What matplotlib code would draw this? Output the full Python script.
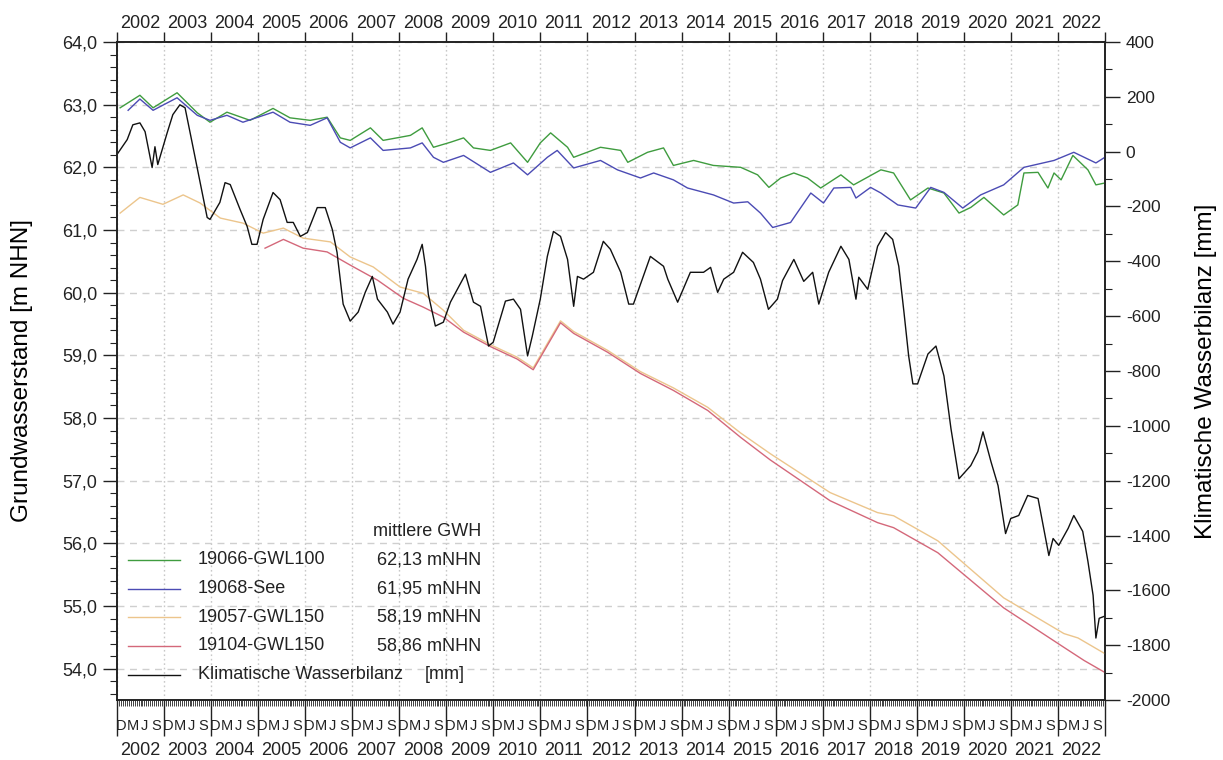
import matplotlib
matplotlib.use('Agg')
import matplotlib.pyplot as plt
from matplotlib.ticker import FixedLocator, MultipleLocator, FuncFormatter, NullFormatter

plt.rcParams['font.family'] = ['Liberation Sans', 'DejaVu Sans']
plt.rcParams['text.color'] = '#222222'
plt.rcParams['xtick.color'] = '#222222'
plt.rcParams['ytick.color'] = '#222222'
plt.rcParams['axes.unicode_minus'] = False

# ---------------- data ----------------
hydro_years = list(range(2002, 2023))
month_letters = ['D', 'M', 'J', 'S']
month_offsets = [1, 4, 7, 10]          # months after 1 Nov

gwl100_t = [2001.90, 2002.32, 2002.60, 2003.11, 2003.54, 2003.81, 2004.17, 2004.66, 2005.15, 2005.51,
            2005.94, 2006.30, 2006.58, 2006.79, 2007.22, 2007.49, 2008.07, 2008.32, 2008.56, 2008.92,
            2009.20, 2009.41, 2009.77, 2010.20, 2010.56, 2010.83, 2011.05, 2011.41, 2011.54, 2012.11,
            2012.54, 2012.69, 2013.11, 2013.45, 2013.66, 2014.09, 2014.51, 2015.09, 2015.45, 2015.69,
            2015.94, 2016.22, 2016.51, 2016.79, 2017.22, 2017.49, 2018.07, 2018.34, 2018.70, 2019.07,
            2019.41, 2019.73, 2019.98, 2020.26, 2020.68, 2020.98, 2021.11, 2021.41, 2021.62, 2021.75,
            2021.90, 2022.15, 2022.47, 2022.64, 2022.83]
gwl100_v = [62.95, 63.15, 62.95, 63.19, 62.87, 62.72, 62.88, 62.75, 62.94, 62.79,
            62.75, 62.80, 62.47, 62.43, 62.63, 62.43, 62.51, 62.63, 62.32, 62.40,
            62.47, 62.31, 62.27, 62.39, 62.08, 62.39, 62.55, 62.32, 62.16, 62.32,
            62.27, 62.08, 62.24, 62.31, 62.03, 62.11, 62.03, 62.00, 61.88, 61.68,
            61.83, 61.91, 61.83, 61.67, 61.88, 61.72, 61.96, 61.91, 61.48, 61.67,
            61.59, 61.27, 61.36, 61.52, 61.24, 61.40, 61.91, 61.92, 61.67, 61.91,
            61.80, 62.19, 61.96, 61.72, 61.75]

see_t = [2002.07, 2002.32, 2002.60, 2003.11, 2003.54, 2003.81, 2004.17, 2004.51, 2005.15, 2005.51,
         2005.94, 2006.30, 2006.58, 2006.79, 2007.22, 2007.49, 2008.07, 2008.32, 2008.56, 2008.77,
         2009.20, 2009.77, 2010.26, 2010.56, 2010.98, 2011.19, 2011.54, 2012.11, 2012.47, 2012.96,
         2013.24, 2013.66, 2013.96, 2014.51, 2014.94, 2015.24, 2015.51, 2015.77, 2016.15, 2016.58,
         2016.85, 2017.07, 2017.43, 2017.54, 2017.85, 2018.07, 2018.43, 2018.81, 2019.13, 2019.41,
         2019.81, 2020.19, 2020.68, 2021.11, 2021.75, 2022.17, 2022.64, 2022.83]
see_v = [62.91, 63.09, 62.91, 63.11, 62.83, 62.75, 62.83, 62.72, 62.88, 62.72,
         62.67, 62.79, 62.40, 62.31, 62.47, 62.27, 62.31, 62.39, 62.16, 62.08,
         62.19, 61.92, 62.07, 61.88, 62.16, 62.27, 61.99, 62.11, 61.96, 61.83,
         61.91, 61.80, 61.67, 61.56, 61.43, 61.45, 61.27, 61.04, 61.12, 61.59,
         61.43, 61.67, 61.68, 61.51, 61.68, 61.59, 61.40, 61.35, 61.68, 61.60,
         61.35, 61.56, 61.72, 62.00, 62.11, 62.24, 62.07, 62.16]

gwl150a_t = [2001.90, 2002.32, 2002.81, 2003.24, 2003.60, 2004.03, 2004.51, 2004.94, 2005.37, 2005.79,
             2006.37, 2006.79, 2007.28, 2007.85, 2008.34, 2008.77, 2009.20, 2009.77, 2010.34, 2010.68,
             2011.26, 2011.54, 2012.26, 2012.96, 2013.66, 2014.39, 2015.09, 2015.72, 2016.99, 2018.00,
             2018.34, 2019.28, 2020.68, 2021.96, 2022.26, 2022.83]
gwl150a_v = [61.27, 61.52, 61.41, 61.56, 61.43, 61.19, 61.11, 60.95, 61.03, 60.87,
             60.81, 60.57, 60.41, 60.09, 59.99, 59.72, 59.40, 59.17, 58.97, 58.80,
             59.55, 59.38, 59.08, 58.74, 58.48, 58.17, 57.76, 57.43, 56.81, 56.49,
             56.44, 56.04, 55.13, 54.56, 54.49, 54.24]

gwl150b_t = [2004.98, 2005.37, 2005.79, 2006.30, 2006.79, 2007.37, 2007.92, 2008.34, 2008.77, 2009.20,
             2009.77, 2010.34, 2010.68, 2011.26, 2011.54, 2012.26, 2012.96, 2013.66, 2014.39, 2015.09,
             2015.72, 2016.99, 2018.00, 2018.34, 2019.28, 2020.68, 2021.96, 2022.39, 2022.83]
gwl150b_v = [60.71, 60.85, 60.71, 60.65, 60.44, 60.20, 59.91, 59.77, 59.61, 59.37,
             59.14, 58.94, 58.77, 59.52, 59.35, 59.05, 58.71, 58.44, 58.12, 57.69,
             57.33, 56.68, 56.33, 56.25, 55.85, 54.97, 54.34, 54.13, 53.94]

kwb_t = [2001.83, 2002.05, 2002.17, 2002.32, 2002.43, 2002.58, 2002.64, 2002.70, 2002.90, 2003.02,
         2003.17, 2003.28, 2003.43, 2003.60, 2003.75, 2003.81, 2004.02, 2004.13, 2004.24, 2004.45,
         2004.60, 2004.70, 2004.81, 2004.94, 2005.15, 2005.30, 2005.45, 2005.58, 2005.73, 2005.88,
         2006.09, 2006.26, 2006.41, 2006.51, 2006.64, 2006.79, 2006.96, 2007.11, 2007.26, 2007.37,
         2007.58, 2007.70, 2007.85, 2008.02, 2008.21, 2008.32, 2008.39, 2008.45, 2008.60, 2008.77,
         2008.92, 2009.24, 2009.41, 2009.56, 2009.73, 2009.83, 2010.09, 2010.26, 2010.41, 2010.56,
         2010.66, 2010.83, 2010.98, 2011.11, 2011.26, 2011.41, 2011.54, 2011.62, 2011.75, 2011.96,
         2012.17, 2012.32, 2012.54, 2012.71, 2012.81, 2013.17, 2013.45, 2013.54, 2013.75, 2014.02,
         2014.30, 2014.45, 2014.60, 2014.73, 2014.94, 2015.13, 2015.36, 2015.51, 2015.68, 2015.87,
         2015.98, 2016.22, 2016.43, 2016.62, 2016.75, 2016.96, 2017.22, 2017.39, 2017.54, 2017.60,
         2017.79, 2018.00, 2018.17, 2018.32, 2018.45, 2018.56, 2018.66, 2018.75, 2018.85, 2019.07,
         2019.24, 2019.41, 2019.56, 2019.73, 2019.98, 2020.13, 2020.24, 2020.41, 2020.56, 2020.72,
         2020.83, 2021.00, 2021.19, 2021.41, 2021.53, 2021.64, 2021.73, 2021.85, 2022.05, 2022.17,
         2022.36, 2022.47, 2022.58, 2022.64, 2022.71, 2022.83]
kwb_v = [-11, 44, 98, 105, 73, -58, 18, -47, 69, 135,
         171, 160, 33, -113, -240, -247, -185, -113, -120, -211,
         -273, -338, -338, -247, -149, -175, -258, -258, -309, -295,
         -204, -204, -284, -367, -556, -618, -585, -513, -455, -538,
         -585, -629, -585, -465, -393, -338, -418, -520, -636, -622,
         -549, -447, -549, -564, -709, -695, -545, -538, -575, -745,
         -673, -538, -382, -291, -309, -393, -564, -455, -465, -440,
         -327, -356, -440, -556, -556, -382, -418, -465, -549, -440,
         -440, -422, -513, -465, -440, -367, -404, -465, -575, -538,
         -470, -393, -473, -440, -556, -440, -345, -393, -538, -458,
         -502, -345, -295, -320, -418, -585, -745, -847, -847, -738,
         -709, -818, -1011, -1193, -1145, -1094, -1022, -1131, -1218, -1393,
         -1338, -1327, -1254, -1265, -1374, -1473, -1411, -1436, -1374, -1327,
         -1385, -1494, -1618, -1774, -1702, -1694]

series_names = ['19066-GWL100', '19068-See', '19057-GWL150', '19104-GWL150', 'Klimatische Wasserbilanz']
mean_gwh = ['62,13 mNHN', '61,95 mNHN', '58,19 mNHN', '58,86 mNHN', '[mm]']
colors = ['#3f9c3f', '#4b4bb4', '#ecc58c', '#d4687a', '#111111']

# ---------------- figure ----------------
W, H = 1223, 760
fig = plt.figure(figsize=(W / 100, H / 100), dpi=100)
ax = fig.add_axes([117 / W, 60 / H, 988 / W, 658 / H])

x_start = 2001 + 10 / 12
bounds = [x_start + i for i in range(len(hydro_years) + 1)]
mids = [b + 0.5 for b in bounds[:-1]]
month_pos = [b + m / 12 for b in bounds[:-1] for m in month_offsets]
month_lab = month_letters * len(hydro_years)
half_months = [x_start + k / 24 for k in range(len(hydro_years) * 24 + 1)]

lw = 1.0
ax.plot(gwl100_t, gwl100_v, color=colors[0], lw=lw, zorder=3)
ax.plot(see_t, see_v, color=colors[1], lw=lw, zorder=3)
ax.plot(gwl150a_t, gwl150a_v, color=colors[2], lw=lw, zorder=3)
ax.plot(gwl150b_t, gwl150b_v, color=colors[3], lw=lw, zorder=3)

ax2 = ax.twinx()
ax2.plot(kwb_t, kwb_v, color=colors[4], lw=1.0)

ax.set_xlim(bounds[0], bounds[-1])
ax.set_ylim(53.5, 64.0)
ax2.set_ylim(-2000, 400)

comma = FuncFormatter(lambda v, p: f'{v:.1f}'.replace('.', ','))
ax.yaxis.set_major_locator(MultipleLocator(1.0))
ax.yaxis.set_minor_locator(MultipleLocator(0.2))
ax.yaxis.set_major_formatter(comma)
ax.tick_params(axis='y', which='major', direction='out', length=10, width=1, labelsize=13, pad=4)
ax.tick_params(axis='y', which='minor', direction='out', length=5, width=0.8)

ax2.yaxis.set_major_locator(MultipleLocator(200))
ax2.yaxis.set_minor_locator(MultipleLocator(100))
ax2.tick_params(axis='y', which='major', direction='out', length=11, width=1, labelsize=12.5, pad=4)
ax2.tick_params(axis='y', which='minor', direction='out', length=5, width=0.8)

ax.xaxis.set_major_locator(FixedLocator(bounds))
ax.xaxis.set_major_formatter(NullFormatter())
ax.xaxis.set_minor_locator(FixedLocator(half_months))
ax.tick_params(axis='x', which='major', direction='out', length=26, width=1, bottom=True, top=False)
ax.tick_params(axis='x', which='minor', direction='out', length=4, width=0.6, bottom=True, top=False)

ax.grid(axis='y', which='major', linestyle=(0, (5, 4)), color='#cfcfcf', lw=1.0, zorder=0)
ax.grid(axis='x', which='major', linestyle=(0, (1.2, 2)), color='#c8c8c8', lw=1.0, zorder=0)
ax.set_axisbelow(True)

for a in (ax, ax2):
    for s in a.spines.values():
        s.set_linewidth(1.2)
        s.set_color('#222222')

# top year labels
sec_top = ax.secondary_xaxis('top')
sec_top.set_ticks(bounds, labels=[''] * len(bounds))
sec_top.set_ticks(mids, labels=[str(y) for y in hydro_years], minor=True)
sec_top.tick_params(which='major', direction='out', length=7, width=1)
sec_top.tick_params(which='minor', length=0, pad=7.5, labelsize=13)
sec_top.spines[:].set_visible(False)

# bottom month letters and year labels
sec_bot = ax.secondary_xaxis('bottom')
sec_bot.set_ticks(month_pos, labels=month_lab)
sec_bot.set_ticks(mids, labels=[str(y) for y in hydro_years], minor=True)
sec_bot.tick_params(which='major', length=0, pad=14, labelsize=10.5)
sec_bot.tick_params(which='minor', length=0, pad=30, labelsize=13)
sec_bot.spines[:].set_visible(False)

ax.set_ylabel('Grundwasserstand [m NHN]', fontsize=17.5)
ax.yaxis.set_label_coords((33 - 117) / 988, 0.5)
ax2.set_ylabel('Klimatische Wasserbilanz [mm]', fontsize=17.5)
ax2.yaxis.set_label_coords((1195 - 117) / 988, 0.5)

# legend (drawn manually to reproduce the two-column layout)
rows_y = [0.2128, 0.1687, 0.1261, 0.0821, 0.0380]
ax.text(0.3684, 0.2568, 'mittlere GWH', transform=ax.transAxes, ha='right', va='center', fontsize=13)
for i, (nm, mv, c) in enumerate(zip(series_names, mean_gwh, colors)):
    y = rows_y[i]
    ax.plot([0.0111, 0.0638], [y, y], transform=ax.transAxes, color=c, lw=1.0, zorder=4)
    ax.text(0.082, y, nm, transform=ax.transAxes, ha='left', va='center', fontsize=13)
    if i < 4:
        ax.text(0.3684, y, mv, transform=ax.transAxes, ha='right', va='center', fontsize=13)
    else:
        ax.text(0.3117, y, mv, transform=ax.transAxes, ha='left', va='center', fontsize=13)

fig.savefig('out.png', dpi=100)
